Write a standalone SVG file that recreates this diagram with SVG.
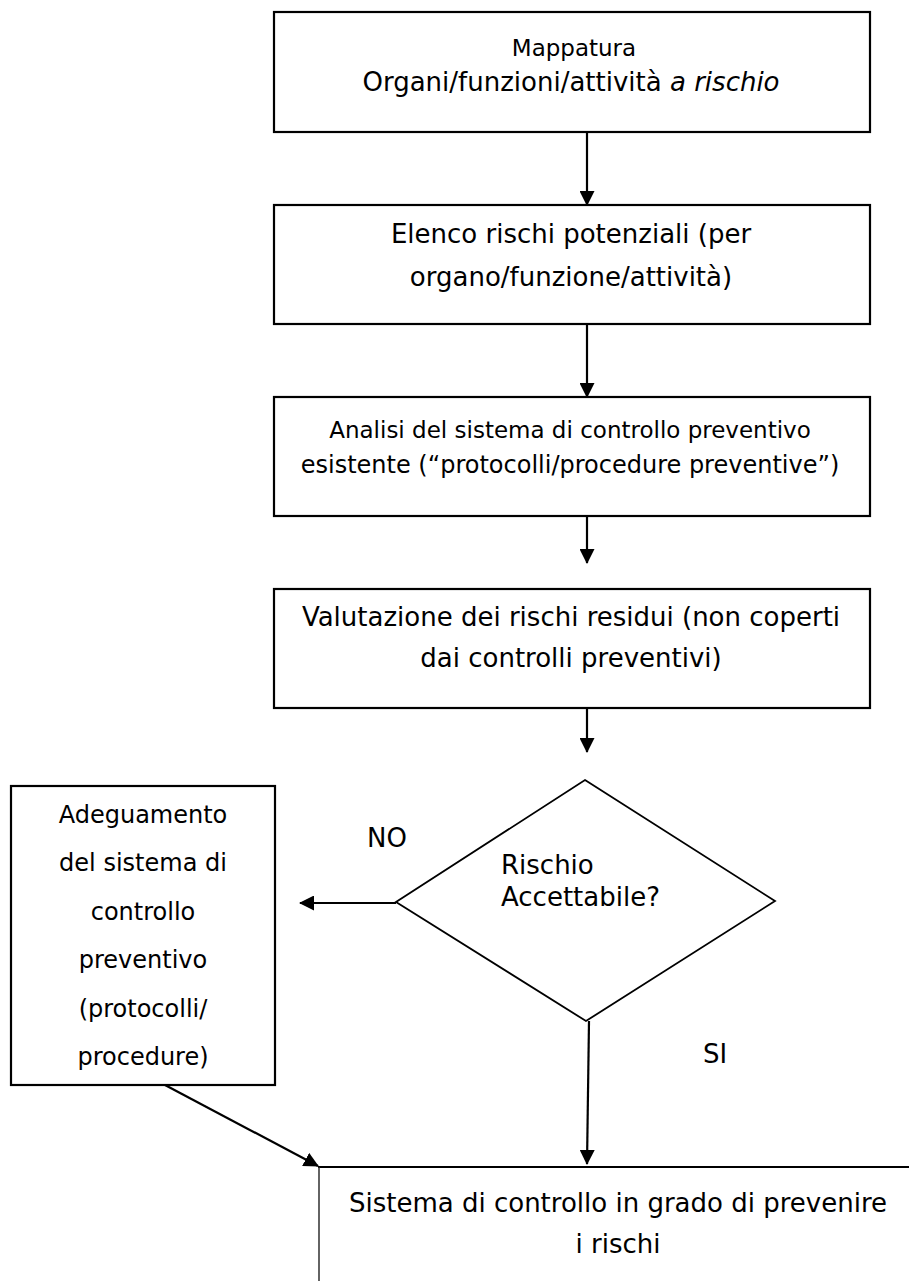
<svg xmlns="http://www.w3.org/2000/svg" width="909" height="1281" viewBox="0 0 909 1281">
<style>
  .box { fill: #fff; stroke: #000; stroke-width: 2.2; }
  .dia { fill: #fff; stroke: #000; stroke-width: 1.8; }
  .t { font-family: "DejaVu Sans", Verdana, sans-serif; font-size: 26px; fill: #000; }
  .tm { text-anchor: middle; }
  .s23 { font-size: 23px; }
  .s24 { font-size: 24px; }
  .conn { stroke: #000; stroke-width: 2.2; fill: none; marker-end: url(#ah); }
</style>
<defs>
  <marker id="ah" viewBox="0 0 15 15" refX="14" refY="7.5" markerWidth="15" markerHeight="15" markerUnits="userSpaceOnUse" orient="auto">
    <path d="M0,0 L15,7.5 L0,15 Z" fill="#000"/>
  </marker>
</defs>
<rect width="909" height="1281" fill="#fff"/>

<g id="connectors">
  <line class="conn" x1="587" y1="132" x2="587" y2="205"/>
  <line class="conn" x1="587" y1="324" x2="587" y2="397"/>
  <line class="conn" x1="587" y1="516" x2="587" y2="563"/>
  <line class="conn" x1="587" y1="708" x2="587" y2="752"/>
  <line class="conn" x1="396" y1="903" x2="300" y2="903"/>
  <line class="conn" x1="589" y1="1021" x2="587" y2="1164"/>
  <line class="conn" x1="165" y1="1085" x2="318" y2="1166"/>
</g>

<g id="n1">
  <rect class="box" x="274" y="12" width="596" height="120"/>
  <text class="t tm s23" x="574" y="56">Mappatura</text>
  <text class="t tm" x="571" y="91">Organi/funzioni/attività <tspan font-style="italic">a rischio</tspan></text>
</g>

<g id="n2">
  <rect class="box" x="274" y="205" width="596" height="119"/>
  <text class="t tm" x="571" y="243">Elenco rischi potenziali (per</text>
  <text class="t tm" x="571" y="286">organo/funzione/attività)</text>
</g>

<g id="n3">
  <rect class="box" x="274" y="397" width="596" height="119"/>
  <text class="t tm s23" x="570" y="438">Analisi del sistema di controllo preventivo</text>
  <text class="t tm s24" x="570" y="473">esistente  (“protocolli/procedure preventive”)</text>
</g>

<g id="n4">
  <rect class="box" x="274" y="589" width="596" height="119"/>
  <text class="t tm" x="571" y="626">Valutazione dei rischi residui (non coperti</text>
  <text class="t tm" x="571" y="667">dai controlli preventivi)</text>
</g>

<g id="decision">
  <polygon class="dia" points="585,780 775,901 586,1021 396,902"/>
  <text class="t" x="501" y="874">Rischio</text>
  <text class="t" x="501" y="906">Accettabile?</text>
</g>

<g id="labels">
  <text class="t" x="367" y="847">NO</text>
  <text class="t" x="703" y="1063">SI</text>
</g>

<g id="n5">
  <rect class="box" x="11" y="786" width="264" height="299"/>
  <text class="t tm s24" x="143" y="823">Adeguamento</text>
  <text class="t tm s24" x="143" y="871">del sistema di</text>
  <text class="t tm s24" x="143" y="920">controllo</text>
  <text class="t tm s24" x="143" y="968">preventivo</text>
  <text class="t tm s24" x="143" y="1017">(protocolli/</text>
  <text class="t tm s24" x="143" y="1065">procedure)</text>
</g>

<g id="n6">
  <rect x="319" y="1167" width="600" height="140" fill="#fff" stroke="none"/>
  <line x1="318" y1="1167" x2="909" y2="1167" stroke="#000" stroke-width="2.2"/>
  <line x1="319" y1="1167" x2="319" y2="1281" stroke="#222" stroke-width="1.4"/>
  <text class="t tm" x="618" y="1212">Sistema di controllo in grado di prevenire</text>
  <text class="t tm" x="618" y="1253">i rischi</text>
</g>
</svg>
